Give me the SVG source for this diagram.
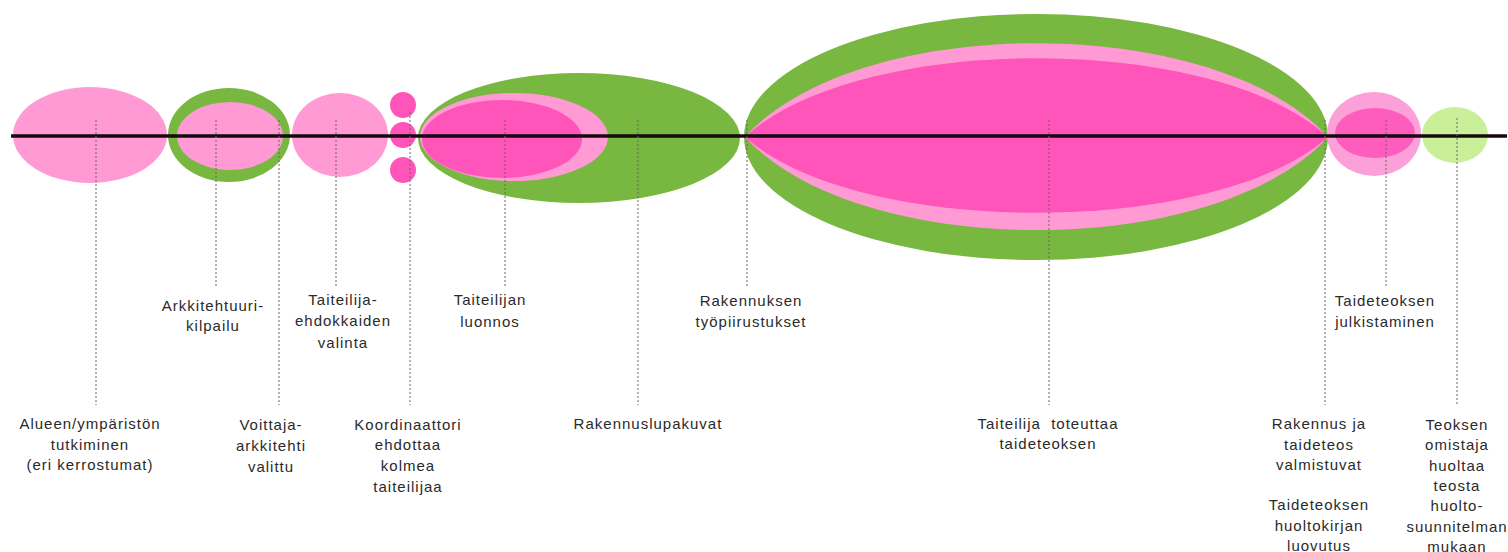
<svg xmlns="http://www.w3.org/2000/svg" width="1508" height="552" viewBox="0 0 1508 552">
<style>
.lp{fill:#FF9AD5}
.hp{fill:#FF55BB}
.gr{fill:#78B740}
.lg{fill:#C9EF98}
.lead{stroke:#666;stroke-width:1;stroke-dasharray:2 2;fill:none}
.axis{stroke:#140A10;stroke-width:3.5}
text{font-family:"Liberation Sans",Arial,sans-serif;font-size:15px;letter-spacing:1px;fill:#2a2a2a;text-anchor:middle}
</style>
<rect width="1508" height="552" fill="#fff"/>
<g id="phase-alue"><ellipse class="lp" cx="90" cy="135" rx="77" ry="48"/></g>
<g id="phase-kilpailu"><ellipse class="gr" cx="229" cy="135" rx="61" ry="47"/><ellipse class="lp" cx="230" cy="136" rx="53" ry="34"/></g>
<g id="phase-ehdokkaat"><ellipse class="lp" cx="340" cy="135" rx="48" ry="42"/></g>
<g id="phase-kolme"><circle class="hp" cx="403" cy="105" r="13"/><circle class="hp" cx="403" cy="135" r="13"/><circle class="hp" cx="403" cy="170" r="13"/></g>
<g id="phase-luonnos"><ellipse class="gr" cx="579" cy="138" rx="161" ry="65"/><ellipse class="lp" cx="514" cy="137" rx="94" ry="44"/><ellipse class="hp" cx="502" cy="139" rx="80" ry="39"/></g>
<g id="phase-toteutus"><ellipse class="gr" cx="1036" cy="137" rx="292" ry="123"/><path class="lp" d="M745,137 C858,12 1215,12 1328,137 C1215,261 858,261 745,137 Z"/><path class="hp" d="M745,137 C858,32 1215,32 1328,137 C1215,238 858,238 745,137 Z"/></g>
<g id="phase-julkistus"><ellipse fill="#FBA0D8" cx="1374" cy="134" rx="47" ry="42"/><ellipse class="hp" cx="1375" cy="133" rx="40" ry="25" opacity="0.9"/></g>
<g id="phase-huolto"><ellipse class="lg" cx="1455" cy="135" rx="33" ry="28"/></g>
<g id="connectors">
<line class="axis" x1="11" y1="136" x2="1507" y2="136"/>
<line class="lead" x1="96" y1="120" x2="96" y2="405"/>
<line class="lead" x1="216" y1="120" x2="216" y2="288"/>
<line class="lead" x1="279" y1="120" x2="279" y2="405"/>
<line class="lead" x1="336" y1="120" x2="336" y2="288"/>
<line class="lead" x1="410" y1="112" x2="410" y2="405"/>
<line class="lead" x1="505" y1="120" x2="505" y2="288"/>
<line class="lead" x1="638" y1="120" x2="638" y2="405"/>
<line class="lead" x1="747" y1="120" x2="747" y2="288"/>
<line class="lead" x1="1049" y1="120" x2="1049" y2="405"/>
<line class="lead" x1="1325" y1="120" x2="1325" y2="405"/>
<line class="lead" x1="1386" y1="120" x2="1386" y2="288"/>
<line class="lead" x1="1457" y1="118" x2="1457" y2="405"/>
</g>
<g id="label-alue"><text x="90" y="429">Alueen/ympäristön</text><text x="90" y="450">tutkiminen</text><text x="90" y="470">(eri kerrostumat)</text></g>
<g id="label-kilpailu"><text x="213" y="311">Arkkitehtuuri-</text><text x="213" y="331">kilpailu</text></g>
<g id="label-ehdokkaat"><text x="343" y="305">Taiteilija-</text><text x="343" y="326">ehdokkaiden</text><text x="343" y="348">valinta</text></g>
<g id="label-voittaja"><text x="271" y="430">Voittaja-</text><text x="271" y="451">arkkitehti</text><text x="271" y="472">valittu</text></g>
<g id="label-kolme"><text x="408" y="430">Koordinaattori</text><text x="408" y="450">ehdottaa</text><text x="408" y="471">kolmea</text><text x="408" y="492">taiteilijaa</text></g>
<g id="label-luonnos"><text x="490" y="305">Taiteilijan</text><text x="490" y="327">luonnos</text></g>
<g id="label-tyopiirustukset"><text x="751" y="306">Rakennuksen</text><text x="751" y="327">työpiirustukset</text></g>
<g id="label-lupakuvat"><text x="648" y="429">Rakennuslupakuvat</text></g>
<g id="label-toteutus"><text x="1048" y="429">Taiteilija&#160; toteuttaa</text><text x="1048" y="449">taideteoksen</text></g>
<g id="label-julkistus"><text x="1385" y="306">Taideteoksen</text><text x="1385" y="327">julkistaminen</text></g>
<g id="label-valmistuu"><text x="1319" y="429">Rakennus ja</text><text x="1319" y="450">taideteos</text><text x="1319" y="470">valmistuvat</text><text x="1319" y="510">Taideteoksen</text><text x="1319" y="531">huoltokirjan</text><text x="1319" y="551">luovutus</text></g>
<g id="label-huolto"><text x="1457" y="430">Teoksen</text><text x="1457" y="450">omistaja</text><text x="1457" y="471">huoltaa</text><text x="1457" y="491">teosta</text><text x="1457" y="511">huolto-</text><text x="1457" y="532">suunnitelman</text><text x="1457" y="552">mukaan</text></g>
</svg>
